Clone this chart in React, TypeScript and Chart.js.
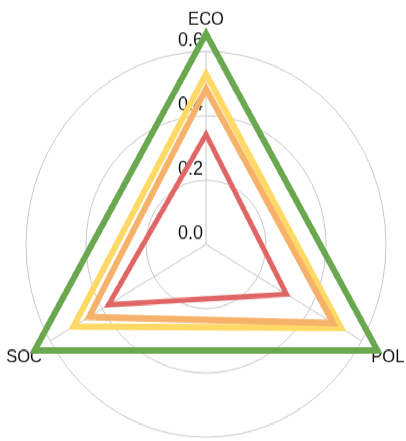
import React, { useEffect, useRef } from "react";
import { Chart, registerables } from "chart.js";

Chart.register(...registerables);

const AXES = ["ECO", "POL", "SOC"];
const TICK_VALUES = [0, 0.2, 0.4, 0.6];
const TICK_LABELS = ["0.0", "0.2", "0.4", "0.6"];

const GREEN = [0.655, 0.66, 0.66];
const ORANGE = [0.483, 0.49, 0.45];
const YELLOW = [0.53, 0.52, 0.51];
const RED = [0.342, 0.31, 0.375];

const STRETCH = 1.072;

const labelPlugin = {
  id: "customLabels",
  beforeDatasetsDraw(chart: any) {
    const scale = chart.scales.r;
    const ctx = chart.ctx;
    ctx.save();
    ctx.fillStyle = "#111";
    ctx.font = '18px "Liberation Sans", Arial, sans-serif';
    ctx.textAlign = "right";
    ctx.textBaseline = "alphabetic";
    TICK_VALUES.forEach((v, i) => {
      const d = scale.getDistanceFromCenterForValue(v);
      ctx.fillText(TICK_LABELS[i], scale.xCenter - 3, scale.yCenter - d - 5);
    });
    ctx.font = '16.5px "Liberation Sans", Arial, sans-serif';
    ctx.textAlign = "center";
    ctx.textBaseline = "middle";
    AXES.forEach((label, i) => {
      const p = scale.getPointPosition(i, scale.drawingArea + 30);
      ctx.fillText(label, p.x, p.y);
    });
    ctx.restore();
  },
};

export default function App() {
  const ref = useRef<HTMLCanvasElement>(null);
  useEffect(() => {
    if (!ref.current) return;
    const ds = (data: number[], color: string, w: number) => ({
      data,
      borderColor: color,
      backgroundColor: "transparent",
      borderWidth: w,
      pointRadius: 0,
      pointHoverRadius: 0,
      fill: false,
      tension: 0,
      borderJoinStyle: "miter" as const,
      clip: false as any,
    });
    const chart = new Chart(ref.current, {
      type: "radar",
      data: {
        labels: AXES,
        datasets: [
          ds(GREEN, "#6aa84f", 6),
          ds(RED, "#e06666", 5),
          ds(ORANGE, "#f6b26b", 6),
          ds(YELLOW, "#ffd966", 6),
        ],
      },
      options: {
        responsive: false,
        animation: false,
        layout: { padding: { left: 26, right: 19, top: 48, bottom: 3 } },
        plugins: { legend: { display: false }, tooltip: { enabled: false } },
        scales: {
          r: {
            min: 0,
            max: 0.6,
            ticks: { display: false, stepSize: 0.2 },
            pointLabels: { display: false },
            grid: { circular: true, color: "#c8c8c8", lineWidth: 1 },
            angleLines: { color: "#c8c8c8", lineWidth: 1 },
          },
        },
      },
      plugins: [labelPlugin],
    });
    return () => chart.destroy();
  }, []);
  return (
    <div
      style={{
        position: "absolute",
        left: 0,
        top: 0,
        width: 406,
        height: 412,
        transform: `scaleY(${STRETCH})`,
        transformOrigin: "0 0",
        background: "#fff",
      }}
    >
      <canvas ref={ref} width={406} height={412} />
    </div>
  );
}
